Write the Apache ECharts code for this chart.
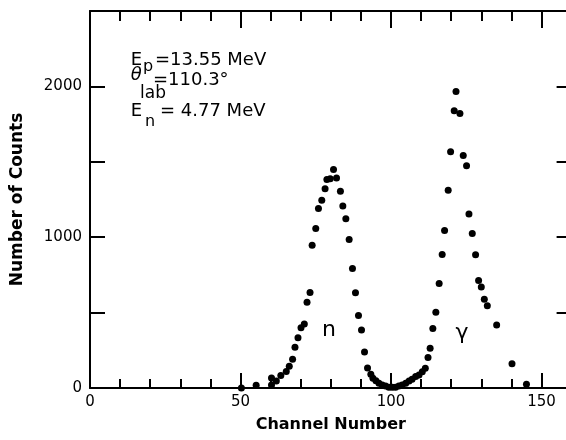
<!DOCTYPE html>
<html>
<head>
<meta charset="utf-8">
<script src="https://cdn.jsdelivr.net/npm/echarts@6/dist/echarts.min.js"></script>
<style>html,body{margin:0;padding:0;background:#fff}#c{width:566px;height:440px}</style>
</head>
<body>
<div id="c"></div>
<script>
// Channel numbers and counts
const channels = [50.3, 55.2, 60.3, 60.3, 61.9, 63.4, 65.2, 66.2, 67.3, 68.1, 69.1, 70.1, 71.2, 72.1, 73.1,
  73.8, 75.0, 75.9, 77.0, 78.1, 78.7, 79.8, 80.9, 81.9, 83.2, 84.0, 85.0, 86.1, 87.2, 88.2, 89.2, 90.2,
  91.2, 92.2, 93.3, 94.0, 95.0, 96.0, 97.1, 98.2, 99.3, 100.4, 101.5, 102.6, 103.7, 104.9, 106.0, 107.0,
  108.2, 109.3, 110.4, 111.4, 112.3, 113.0, 113.9, 114.9, 116.0, 117.0, 117.8, 119.0, 119.8, 121.0, 121.6,
  122.9, 124.0, 125.1, 125.9, 127.0, 128.1, 129.1, 130.0, 131.0, 132.0, 135.1, 140.2, 145.0];
const counts = [0, 18, 20, 66, 46, 83, 110, 144, 190, 271, 333, 400, 425, 569, 634,
  946, 1058, 1191, 1245, 1322, 1382, 1387, 1449, 1393, 1304, 1207, 1123, 985, 793, 631, 480, 385,
  238, 132, 92, 64, 48, 31, 20, 13, 5, 5, 5, 13, 20, 31, 46, 58,
  76, 86, 108, 131, 203, 264, 395, 502, 693, 886, 1045, 1312, 1567, 1838, 1967,
  1821, 1542, 1473, 1154, 1025, 884, 713, 669, 588, 546, 417, 161, 25];
const xTickLabels = ['0', '50', '100', '150'];
const yTickLabels = ['0', '1000', '2000'];

const points = channels.map((c, i) => [c, counts[i]]);
const chart = echarts.init(document.getElementById('c'), null, {renderer: 'canvas'});
const ls = {color: '#000', width: 2};
const font = 'DejaVu Sans';
const txt = (x, y, s, size, italic, align) => ({
  type: 'text', x: x, y: y,
  style: {text: s, font: (italic ? 'italic ' : '') + size + 'px "' + font + '"', fill: '#000',
    verticalAlign: 'middle', align: align || 'left'}
});
const line = {show: true, onZero: false, lineStyle: ls};
const noLine = {show: false, onZero: false};
chart.setOption({
  animation: false,
  backgroundColor: '#fff',
  grid: {left: 90, top: 11, bottom: 52, right: -5.6, containLabel: false, outerBoundsMode: 'none'},
  xAxis: [
    {type: 'value', position: 'bottom', min: 0, max: 160, interval: 50,
     axisLine: line,
     axisTick: {show: true, inside: true, length: 15, lineStyle: ls},
     axisLabel: {show: true, showMaxLabel: false, margin: 7, color: '#000', fontFamily: font, fontSize: 15,
       formatter: v => xTickLabels.indexOf(String(v)) >= 0 ? String(v) : ''},
     splitLine: {show: false},
     name: 'Channel Number', nameLocation: 'middle', nameGap: 37,
     nameTextStyle: {color: '#000', fontFamily: font, fontWeight: 'bold', fontSize: 16, verticalAlign: 'middle'}},
    {type: 'value', position: 'bottom', min: 0, max: 160, interval: 10,
     axisLine: noLine, axisTick: {show: true, inside: true, length: 9, lineStyle: ls},
     axisLabel: {show: false}, splitLine: {show: false}},
    {type: 'value', position: 'top', min: 0, max: 160, interval: 50,
     axisLine: line, axisTick: {show: true, inside: true, length: 17, lineStyle: ls},
     axisLabel: {show: false}, splitLine: {show: false}},
    {type: 'value', position: 'top', min: 0, max: 160, interval: 10,
     axisLine: noLine, axisTick: {show: true, inside: true, length: 10, lineStyle: ls},
     axisLabel: {show: false}, splitLine: {show: false}}
  ],
  yAxis: [
    {type: 'value', position: 'left', min: 0, max: 2500, interval: 500,
     axisLine: line,
     axisTick: {show: true, inside: true, length: 15, lineStyle: ls},
     axisLabel: {show: true, margin: 8, color: '#000', fontFamily: font, fontSize: 15,
       formatter: v => yTickLabels.indexOf(String(v)) >= 0 ? String(v) : ''},
     splitLine: {show: false},
     name: 'Number of Counts', nameLocation: 'middle', nameGap: 72,
     nameTextStyle: {color: '#000', fontFamily: font, fontWeight: 'bold', fontSize: 17, verticalAlign: 'middle'}},
    {type: 'value', position: 'right', min: 0, max: 2500, interval: 500,
     axisLine: line,
     axisTick: {show: true, inside: true, length: 15, lineStyle: ls},
     axisLabel: {show: false}, splitLine: {show: false}}
  ],
  series: [{
    type: 'scatter', xAxisIndex: 0, yAxisIndex: 0, data: points,
    symbol: 'circle', symbolSize: 7, itemStyle: {color: '#000', opacity: 1}, clip: false
  }],
  graphic: [
    txt(130.7, 60.5, 'E', 18), txt(143, 67, 'p', 16), txt(155, 60.5, '=13.55 MeV', 18),
    txt(130.7, 75, 'θ', 18, true), txt(140, 94, 'lab', 17), txt(153, 80, '=110.3°', 18),
    txt(130.7, 111, 'E', 18), txt(145, 122, 'n', 16), txt(160, 111, '= 4.77 MeV', 18),
    txt(329, 330, 'n', 22, false, 'center'), txt(462, 333, 'γ', 22, false, 'center')
  ]
});
</script>
</body>
</html>
